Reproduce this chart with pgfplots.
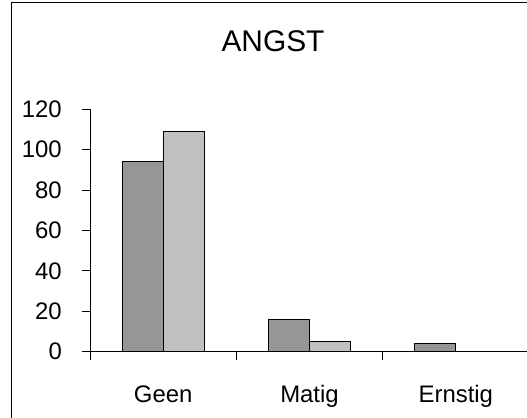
\documentclass[border=0pt]{standalone}
\usepackage{pgfplots}
\pgfplotsset{compat=1.18}
\usepackage{fontspec}
\setmainfont{Liberation Sans}
\definecolor{darkbar}{HTML}{969696}
\definecolor{lightbar}{HTML}{C0C0C0}
\begin{document}
\begin{tikzpicture}
\useasboundingbox (0,0) rectangle (527bp,418bp);
\clip (0,0) rectangle (527bp,418bp);
\fill[white] (0,0) rectangle (527bp,418bp);
\draw[line width=1bp] (11bp,-20bp) rectangle (560bp,415bp);
\node[font=\fontsize{30}{36}\selectfont, anchor=base, inner sep=0pt] at (273bp,366bp) {ANGST};
\begin{axis}[
 at={(90bp,66.3bp)}, anchor=south west,
 scale only axis, width=439bp, height=242.4bp,
 xmin=0, xmax=3, ymin=0, ymax=120,
 axis lines*=left,
 ybar=0pt, bar width=41bp,
 xtick={0,1,2,3}, xticklabels={Geen,Matig,Ernstig}, x tick label as interval,
 ytick={0,20,...,120},
 tick align=outside, major tick length=8bp,
 tick style={black, line width=0.8bp},
 axis line style={black, line width=0.8bp},
 ticklabel style={font=\fontsize{24}{28}\selectfont},
 /pgf/number format/assume math mode=true,
 yticklabel style={anchor=east, inner sep=0pt, xshift=-20bp},
 xticklabel style={anchor=base, inner sep=0pt, yshift=-43bp},
]
\addplot[fill=darkbar, draw=black, line width=0.8bp] coordinates {(0.5,94) (1.5,16) (2.5,4)};
\addplot[fill=lightbar, draw=black, line width=0.8bp] coordinates {(0.5,109) (1.5,5) (2.5,0)};
\end{axis}
\end{tikzpicture}
\end{document}
